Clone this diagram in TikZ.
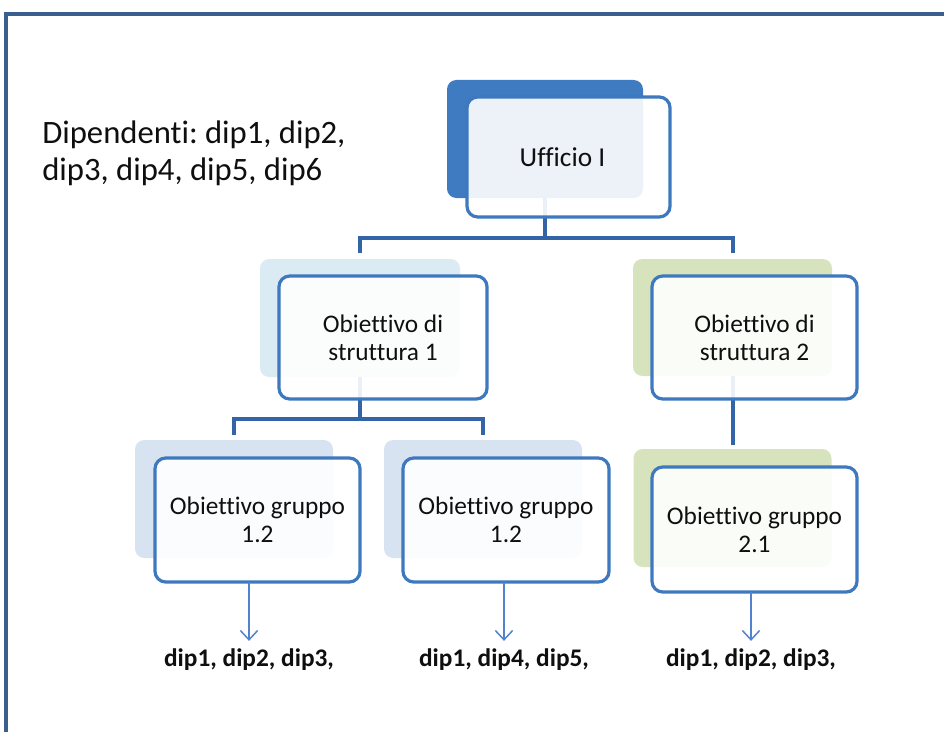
\documentclass[tikz,border=0pt]{standalone}
\usepackage{fontspec}
\setmainfont{Carlito}[Ligatures=NoCommon]
\usetikzlibrary{arrows.meta}
\definecolor{framec}{RGB}{59,94,145}
\definecolor{bordc}{RGB}{62,120,190}
\definecolor{darkback}{RGB}{63,123,192}
\definecolor{connc}{RGB}{52,100,168}
\definecolor{lblue}{RGB}{219,235,244}
\definecolor{lgreen}{RGB}{214,227,188}
\definecolor{lsteel}{RGB}{216,227,241}
\definecolor{arrc}{RGB}{80,130,205}
\definecolor{txtc}{RGB}{15,15,15}
\begin{document}
\begin{tikzpicture}[x=0.75pt,y=-0.75pt,
  back/.style 2 args={draw=none, rounded corners=7pt, minimum width=#1*0.75pt, minimum height=#2*0.75pt, inner sep=0pt, outer sep=0pt},
  front/.style 2 args={draw=bordc, line width=2.4pt, fill=white, fill opacity=0.9, text opacity=1, rounded corners=8pt, minimum width=#1*0.75pt, minimum height=#2*0.75pt, inner sep=0pt, outer sep=0pt, align=center, font=\fontsize{19}{21}\selectfont, text=txtc},
  conn/.style={draw=connc, line width=3pt},
  arr/.style={draw=arrc, line width=1.1pt, -{Straight Barb[length=7pt,width=13pt]}},
  lbl/.style={font=\bfseries\fontsize{19}{21}\selectfont, text=txtc, inner sep=0pt}]
\useasboundingbox (0,0) rectangle (944,731);
\fill[white] (0,0) rectangle (944,731);
\draw[framec, line width=3pt] (6,14) rectangle (1000,800);

% back boxes
\node[back={196}{118}, fill=darkback] (ub) at (545,139) {};
\node[back={200}{118}, fill=lblue] (s1b) at (360,318) {};
\node[back={199}{117}, fill=lgreen] (s2b) at (732.5,317.5) {};
\node[back={198}{118}, fill=lsteel] (g1b) at (234,499) {};
\node[back={198}{118}, fill=lsteel] (g2b) at (483,499) {};
\node[back={198}{118}, fill=lgreen] (g3b) at (732.5,508) {};

% connectors
\coordinate (bus1) at (545,238);
\draw[conn] (ub.south) -- (bus1);
\draw[conn, shorten >=4.5pt] (bus1) -| (s1b.north);
\draw[conn, shorten >=4.5pt] (bus1) -| (s2b.north);
\coordinate (bus2) at (360,419);
\draw[conn] (s1b.south) -- (bus2);
\draw[conn, shorten >=4pt] (bus2) -| (g1b.north);
\draw[conn, shorten >=4pt] (bus2) -| (g2b.north);
\draw[conn, shorten >=3pt] (s2b.south) -- (g3b.north);

% front boxes
\node[front={203}{120}, font=\fontsize{20.5}{24}\selectfont] (uf) at (568.5,157) {Ufficio I\hspace*{9pt}};
\node[front={208}{123}] (s1f) at (383,337.5) {Obiettivo di\\struttura 1};
\node[front={205}{123}] (s2f) at (754.5,337.5) {Obiettivo di\\struttura 2};
\node[front={205}{124}] (g1f) at (257.5,520) {Obiettivo gruppo\\1.2};
\node[front={206}{124}] (g2f) at (506,520) {Obiettivo gruppo\\1.2};
\node[front={205}{125}] (g3f) at (754.5,529.5) {Obiettivo gruppo\\2.1};

% texts
\node[anchor=west, align=left, font=\fontsize{24.5}{27.75}\selectfont, text=txtc, inner sep=0pt] (dip) at (42,153) {Dipendenti:\hspace{-2pt} dip1, dip2,\\dip3, dip4, dip5, dip6};
\node[lbl] (d1) at (249,660) {dip1, dip2, dip3,};
\node[lbl] (d2) at (504,660) {dip1, dip4, dip5,};
\node[lbl] (d3) at (751,660) {dip1, dip2, dip3,};

% arrows
\draw[arr, shorten >=6pt] (g1f.south -| d1.north) -- (d1.north);
\draw[arr, shorten >=6pt] (g2f.south -| d2.north) -- (d2.north);
\draw[arr, shorten >=6pt] (g3f.south -| d3.north) -- (d3.north);
\end{tikzpicture}
\end{document}
